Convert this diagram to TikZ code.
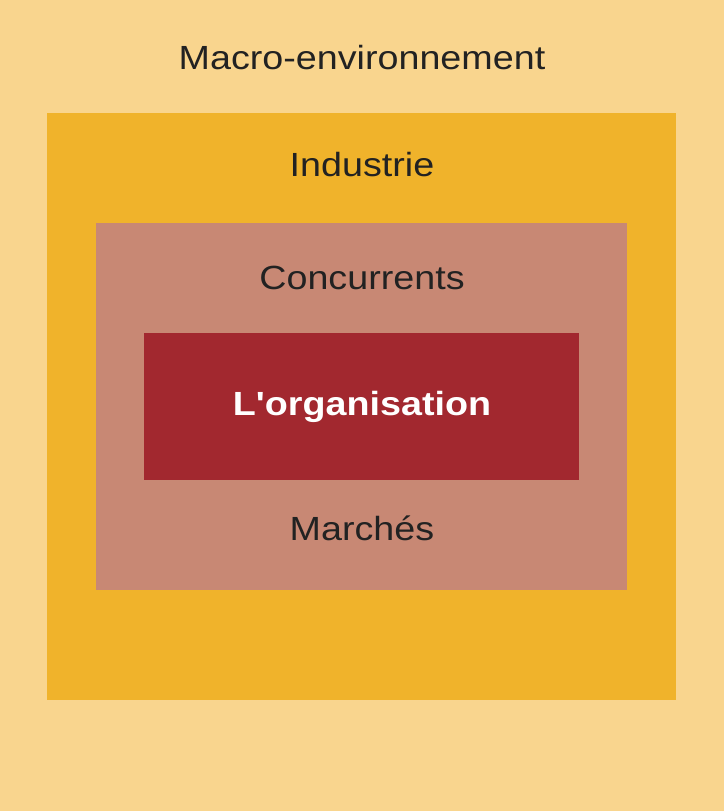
\documentclass[tikz,border=0pt]{standalone}
\usepackage{fontspec}
\setmainfont{Liberation Sans}
\definecolor{bgpeach}{HTML}{F9D58E}
\definecolor{indorange}{HTML}{F0B32B}
\definecolor{concpink}{HTML}{C88874}
\definecolor{orgred}{HTML}{A2282F}
\definecolor{txtdark}{HTML}{222222}
\tikzset{
  layer/.style={fill=#1, draw=none},
  lbl/.style={anchor=base, text=txtdark, inner sep=0pt, font=\fontsize{33.5}{40}\selectfont},
  orglbl/.style={anchor=base, text=white, inner sep=0pt, font=\fontsize{33.5}{40}\selectfont\bfseries}
}
\newcommand{\wide}[1]{\scalebox{1.125}[1]{#1}}
\begin{document}
\begin{tikzpicture}[x=1pt,y=-1pt]
\useasboundingbox (0,0) rectangle (724,811);
\fill[layer=bgpeach] (0,0) rectangle (724,811);
\fill[layer=indorange] (47,113) rectangle (676,700);
\fill[layer=concpink] (96,223) rectangle (627,590);
\fill[layer=orgred] (144,333) rectangle (579,480);
\node[lbl] (macro) at (362,69) {\wide{Macro-environnement}};
\node[lbl] (ind) at (362,176) {\wide{Industrie}};
\node[lbl] (conc) at (362,289) {\wide{Concurrents}};
\node[orglbl] (org) at (362,415) {\wide{L\textquotesingle organisation}};
\node[lbl] (march) at (362,540) {\wide{Marchés}};
\end{tikzpicture}
\end{document}
